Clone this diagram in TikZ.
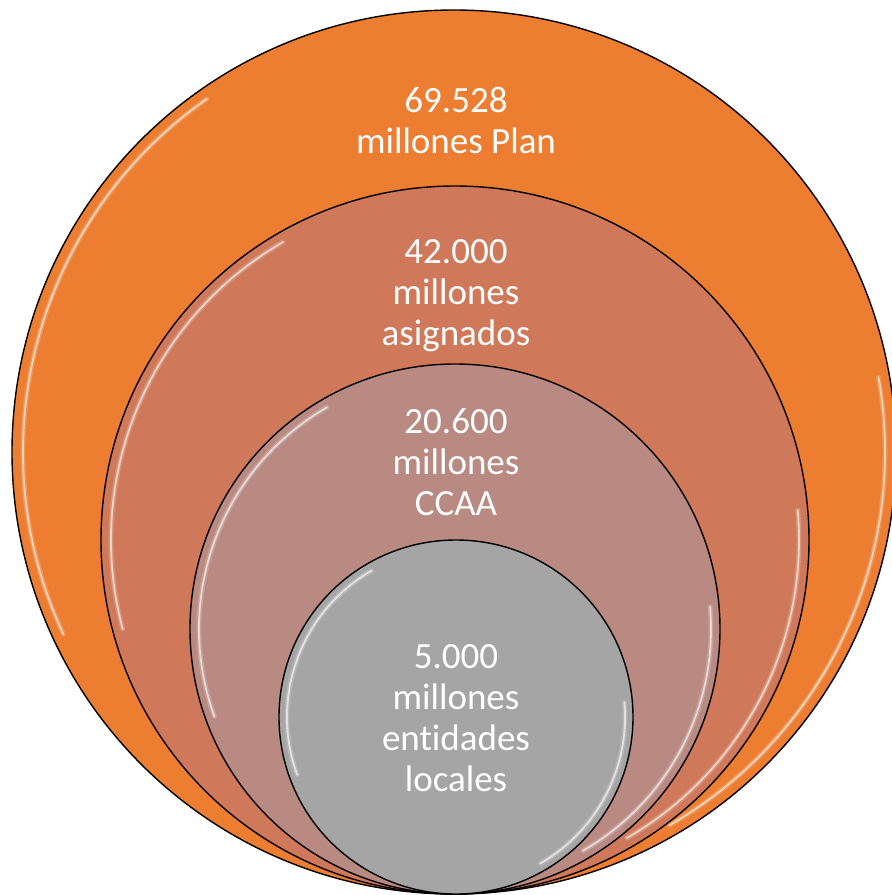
\documentclass[tikz,border=0pt]{standalone}
\usepackage{fontspec}
\setmainfont{Carlito}[Ligatures={NoCommon}, RawFeature={-liga;-dlig}]
\definecolor{cplan}{HTML}{ED7D31}
\definecolor{casig}{HTML}{CF795A}
\definecolor{cccaa}{HTML}{B98A82}
\definecolor{cloc}{HTML}{A5A5A5}
\begin{document}
\begin{tikzpicture}[x=1pt,y=-1pt,
  ring/.style={circle, draw=black, line width=1.4pt, inner sep=0pt},
  hlwide/.style={white, line width=5pt, opacity=0.18, line cap=round},
  hlthin/.style={white, line width=1.8pt, opacity=0.6, line cap=round},
  lbl/.style={text=white, align=center, font=\fontsize{37}{41}\selectfont, anchor=base, inner sep=0pt}]
\useasboundingbox (0,0) rectangle (892,895);
\clip (0,0) rectangle (892,895);
% circles
\node[ring, fill=cplan, minimum size=884pt] (c1) at (454,452) {};
\draw[hlwide] (c1.center) ++(125:431pt) arc[start angle=125, end angle=205, radius=431pt];
\draw[hlthin] (c1.center) ++(125:431pt) arc[start angle=125, end angle=205, radius=431pt];
\draw[hlwide] (c1.center) ++(-60:431pt) arc[start angle=-60, end angle=10, radius=431pt];
\draw[hlthin] (c1.center) ++(-60:431pt) arc[start angle=-60, end angle=10, radius=431pt];

\node[ring, fill=casig, minimum size=708pt] (c2) at (455,540) {};
\draw[hlwide] (c2.center) ++(120:344pt) arc[start angle=120, end angle=195, radius=344pt];
\draw[hlthin] (c2.center) ++(120:344pt) arc[start angle=120, end angle=195, radius=344pt];
\draw[hlwide] (c2.center) ++(-60:344pt) arc[start angle=-60, end angle=5, radius=344pt];
\draw[hlthin] (c2.center) ++(-60:344pt) arc[start angle=-60, end angle=5, radius=344pt];

\node[ring, fill=cccaa, minimum size=530pt] (c3) at (455,629) {};
\draw[hlwide] (c3.center) ++(120:256pt) arc[start angle=120, end angle=200, radius=256pt];
\draw[hlthin] (c3.center) ++(120:256pt) arc[start angle=120, end angle=200, radius=256pt];
\draw[hlwide] (c3.center) ++(-60:256pt) arc[start angle=-60, end angle=5, radius=256pt];
\draw[hlthin] (c3.center) ++(-60:256pt) arc[start angle=-60, end angle=5, radius=256pt];

\node[ring, fill=cloc, minimum size=354pt] (c4) at (456,717) {};
\draw[hlwide] (c4.center) ++(120:169pt) arc[start angle=120, end angle=200, radius=169pt];
\draw[hlthin] (c4.center) ++(120:169pt) arc[start angle=120, end angle=200, radius=169pt];
\draw[hlwide] (c4.center) ++(-60:169pt) arc[start angle=-60, end angle=5, radius=169pt];
\draw[hlthin] (c4.center) ++(-60:169pt) arc[start angle=-60, end angle=5, radius=169pt];

% labels (anchor base = last line)
\node[lbl] (t1) at (456,153) {69.528\\millones Plan};
\node[lbl] (t2) at (456,345) {42.000\\millones\\asignados};
\node[lbl] (t3) at (456,515) {20.600\\millones\\CCAA};
\node[lbl] (t4) at (456,791) {5.000\\millones\\entidades\\locales};
\end{tikzpicture}
\end{document}
